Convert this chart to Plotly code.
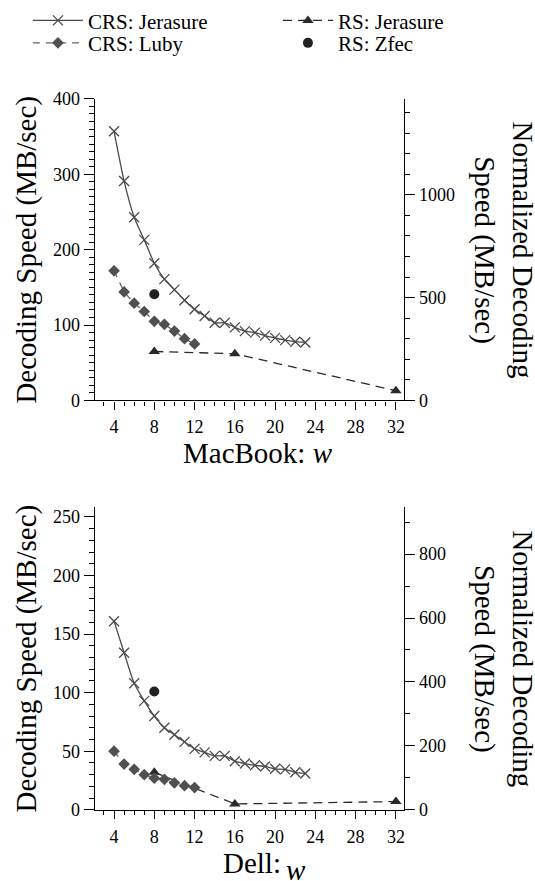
import plotly.graph_objects as go

# ---------------- data ----------------
w_crs_jer = list(range(4, 24))
w_crs_luby = list(range(4, 13))
w_rs_jer = [8, 16, 32]
w_rs_zfec = [8]

mac_crs_jer = [357, 291, 243, 213, 182, 161, 147, 133, 121, 112, 103, 103, 97, 92, 90, 86, 83, 80, 78, 77]
mac_crs_luby = [172, 144, 129, 118, 105, 101, 92, 82, 75]
mac_rs_jer = [65, 62, 13]
mac_rs_zfec = [141]

dell_crs_jer = [161, 134, 108, 93, 80, 70, 64, 58, 52, 49, 46, 46, 41.5, 39.5, 38, 37, 35, 34.5, 32, 31]
dell_crs_luby = [50, 39, 34.5, 30, 27, 26, 23, 20.6, 19]
dell_rs_jer = [32, 5, 7]
dell_rs_zfec = [101]

x_ticks = [4, 8, 12, 16, 20, 24, 28, 32]
mac_left_ticks = [0, 100, 200, 300, 400]
mac_right_ticks = [0, 500, 1000]
dell_left_ticks = [0, 50, 100, 150, 200, 250]
dell_right_ticks = [0, 200, 400, 600, 800]

# ---------------- layout helpers ----------------
W, H = 535, 881
FONT = "Liberation Serif"
def fx(p):
    return p / W
def fy(p):
    return 1 - p / H

X_DOM = [fx(95), fx(405)]
TOP_DOM = [fy(399), fy(90)]
BOT_DOM = [fy(818.3), fy(508.3)]
X_RANGE = [2.09, 32.83]
RATIO = 3.665

C_JER = "#4a4a4a"
C_LUBY = "#505050"
C_RS = "#2a2a2a"
C_ZFEC = "#222222"

fig = go.Figure()

def add_set(xa, ya, jer, luby, rsj, zfec, show):
    fig.add_trace(go.Scatter(
        x=w_crs_jer, y=jer, name="CRS: Jerasure", mode="lines+markers",
        line=dict(color=C_JER, width=1.3, shape="spline", smoothing=0.6),
        marker=dict(symbol="x-thin-open", size=10, line=dict(color="#555555", width=1.3)),
        xaxis=xa, yaxis=ya, showlegend=show, legend="legend", legendrank=1))
    fig.add_trace(go.Scatter(
        x=w_rs_jer, y=rsj, name="RS: Jerasure", mode="lines+markers",
        line=dict(color=C_RS, width=1.3, dash="9px,6px"),
        marker=dict(symbol="triangle-up", size=10, color=C_RS),
        xaxis=xa, yaxis=ya, showlegend=show, legend="legend", legendrank=2))
    fig.add_trace(go.Scatter(
        x=w_crs_luby, y=luby, name="CRS: Luby", mode="lines+markers",
        line=dict(color="#666666", width=1.3, dash="7px,6px"),
        marker=dict(symbol="diamond", size=9, color=C_LUBY),
        xaxis=xa, yaxis=ya, showlegend=show, legend="legend2", legendrank=3))
    fig.add_trace(go.Scatter(
        x=w_rs_zfec, y=zfec, name="RS: Zfec", mode="markers",
        marker=dict(symbol="circle", size=10, color=C_ZFEC),
        xaxis=xa, yaxis=ya, showlegend=show, legend="legend2", legendrank=4))

add_set("x", "y", mac_crs_jer, mac_crs_luby, mac_rs_jer, mac_rs_zfec, True)
add_set("x2", "y3", dell_crs_jer, dell_crs_luby, dell_rs_jer, dell_rs_zfec, False)

# empty traces so the right-hand (normalized) axes are drawn
for ya in ["y2", "y4"]:
    fig.add_trace(go.Scatter(x=[], y=[], xaxis="x" if ya == "y2" else "x2", yaxis=ya,
                             showlegend=False, hoverinfo="skip", mode="markers"))

tickfont = dict(family=FONT, size=18, color="black")

def xaxis(anchor):
    return dict(domain=X_DOM, anchor=anchor, range=X_RANGE, tickvals=x_ticks,
                ticks="outside", ticklen=8, tickwidth=1.2, tickcolor="black",
                minor=dict(ticks="outside", ticklen=4, tickwidth=1, tickcolor="black", dtick=1, tick0=0),
                showline=True, linecolor="black", linewidth=1.3, showgrid=False, zeroline=False,
                tickfont=tickfont, ticklabelstandoff=2)

def yleft(dom, anchor, rng, tv, minor_dt):
    return dict(domain=dom, anchor=anchor, range=rng, tickvals=tv,
                ticks="outside", ticklen=10, tickwidth=1.2, tickcolor="black",
                minor=dict(ticks="outside", ticklen=5, tickwidth=1, tickcolor="black", dtick=minor_dt, tick0=0),
                showline=True, linecolor="black", linewidth=1.3, showgrid=False, zeroline=False,
                tickfont=tickfont)

def yright(overlay, anchor, rng, tv):
    return dict(overlaying=overlay, anchor=anchor, side="right", range=rng, tickvals=tv,
                ticks="outside", ticklen=10, tickwidth=1.2, tickcolor="black",
                minor=dict(ticks="outside", ticklen=5, tickwidth=1, tickcolor="black", dtick=100, tick0=0),
                showline=True, linecolor="black", linewidth=1.3, showgrid=False, zeroline=False,
                tickfont=tickfont)

fig.update_layout(
    xaxis=xaxis("y"),
    yaxis=yleft(TOP_DOM, "x", [0, 400], mac_left_ticks, 10),
    yaxis2=yright("y", "x", [0, 400 * RATIO], mac_right_ticks),
    xaxis2=xaxis("y3"),
    yaxis3=yleft(BOT_DOM, "x2", [0, 258.3], dell_left_ticks, 10),
    yaxis4=yright("y3", "x2", [0, 258.3 * RATIO], dell_right_ticks),
)

TITLE = dict(family=FONT, size=29, color="black")
ann = []
for cy in [244.5, 663.3]:
    ann.append(dict(text="Decoding Speed (MB/sec)", textangle=-90, x=fx(27), y=fy(cy),
                    xref="paper", yref="paper", xanchor="center", yanchor="middle",
                    showarrow=False, font=TITLE))
    ann.append(dict(text="Normalized Decoding<br>Speed (MB/sec)", textangle=90, x=fx(504), y=fy(cy),
                    xref="paper", yref="paper", xanchor="center", yanchor="middle",
                    showarrow=False, font=TITLE))
ann.append(dict(text="MacBook: <i>w</i>", x=fx(258), y=fy(453), xref="paper", yref="paper",
                xanchor="center", yanchor="middle", showarrow=False, font=TITLE))
ann.append(dict(text="Dell:", x=fx(221), y=fy(873), xref="paper", yref="paper",
                xanchor="left", yanchor="middle", showarrow=False, font=TITLE))
ann.append(dict(text="<i>w</i>", x=fx(285), y=fy(880), xref="paper", yref="paper",
                xanchor="left", yanchor="middle", showarrow=False, font=TITLE))

LEG_FONT = dict(family=FONT, size=21, color="black")
fig.update_layout(
    annotations=ann,
    width=W, height=H,
    margin=dict(l=0, r=0, t=0, b=0),
    paper_bgcolor="white", plot_bgcolor="white",
    font=dict(family=FONT, color="black"),
    showlegend=True,
    legend=dict(orientation="h", x=fx(28), y=fy(-11), xanchor="left", yanchor="top",
                entrywidth=185, entrywidthmode="pixels", itemwidth=50,
                font=LEG_FONT, bgcolor="rgba(0,0,0,0)", tracegroupgap=0),
    legend2=dict(orientation="h", x=fx(28), y=fy(12), xanchor="left", yanchor="top",
                 entrywidth=185, entrywidthmode="pixels", itemwidth=50,
                 font=LEG_FONT, bgcolor="rgba(0,0,0,0)", tracegroupgap=0),
)

fig.write_html("out.html")
